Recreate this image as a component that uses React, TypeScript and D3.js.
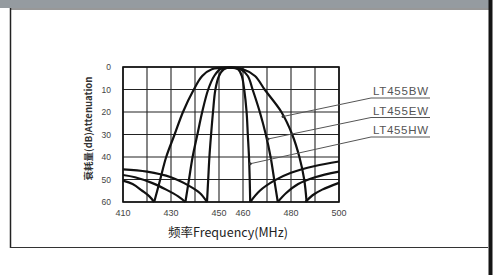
import { useEffect, useRef } from "react";
import * as d3 from "d3";

type Pt = [number, number];

// frequency (MHz) / attenuation (dB)
const freqTicks = [410, 430, 450, 460, 480, 500];
const dbTicks = [0, 10, 20, 30, 40, 50, 60];

const bwMain: Pt[] = [
  [423, 60], [425.5, 50], [428, 40], [431.5, 30], [435, 20], [439.5, 10], [443, 4], [447, 1],
  [454, 0.3], [460, 1], [465, 4], [469, 10], [476, 20], [480.5, 30], [483.5, 40], [485.5, 50], [486.5, 60],
];
const ewMain: Pt[] = [
  [436, 60], [437.5, 50], [439, 40], [441, 30], [443, 20], [445.5, 10], [448, 4], [450.5, 1],
  [455, 0.3], [459, 1], [462, 4], [464, 10], [467, 20], [469.5, 30], [471.5, 40], [473, 50], [474.5, 60],
];
const hwMain: Pt[] = [
  [445, 60], [445.5, 50], [446, 40], [446.7, 30], [447.5, 20], [448.5, 10], [450, 4], [452, 1],
  [455, 0.3], [458, 1], [459.5, 4], [460.5, 10], [461.5, 20], [462, 30], [462.5, 40], [462.8, 50], [463, 60],
];
// stopband arcs either side of the attenuation poles
const hwLeft: Pt[] = [[410, 45.5], [420, 46.5], [430, 49], [437, 52.5], [442, 56], [445, 60]];
const ewLeft: Pt[] = [[410, 48], [415, 49], [422, 51.5], [428, 54.5], [433, 57.5], [436, 60]];
const bwLeft: Pt[] = [[410, 50.5], [414, 52], [418, 55], [421, 57.5], [423, 60]];
const hwRight: Pt[] = [[463, 60], [467, 55], [473, 50.5], [480, 47], [490, 44], [500, 42]];
const ewRight: Pt[] = [[474.5, 60], [478, 56], [483, 52], [490, 49], [500, 46.5]];
const bwRight: Pt[] = [[486, 60], [489, 57], [493, 54.5], [500, 51.5]];

const models = ["LT455BW", "LT455EW", "LT455HW"];
const leaderTargets: Pt[] = [[476.7, 22], [470.4, 32], [463, 43]];

export default function App() {
  const ref = useRef<SVGSVGElement | null>(null);

  useEffect(() => {
    const width = 503;
    const height = 275;
    const svg = d3.select(ref.current);
    svg.selectAll("*").remove();
    svg.attr("width", width).attr("height", height).attr("viewBox", `0 0 ${width} ${height}`);

    // scan frame
    svg.append("rect").attr("width", width).attr("height", height).attr("fill", "#fff");
    svg.append("rect").attr("x", 0).attr("y", 0).attr("width", 490).attr("height", 8).attr("fill", "#959ba0");
    svg.append("line").attr("x1", 10).attr("x2", 490).attr("y1", 9).attr("y2", 9).attr("stroke", "#333").attr("stroke-width", 1.2);
    svg.append("line").attr("x1", 10.5).attr("x2", 10.5).attr("y1", 8).attr("y2", 248).attr("stroke", "#222").attr("stroke-width", 1.5);
    svg.append("line").attr("x1", 490.5).attr("x2", 490.5).attr("y1", 0).attr("y2", 275).attr("stroke", "#151515").attr("stroke-width", 4);
    svg.append("line").attr("x1", 10).attr("x2", 488).attr("y1", 247.5).attr("y2", 247.5).attr("stroke", "#333").attr("stroke-width", 1.2);

    const margin = { top: 67, left: 123 };
    const innerW = 216;
    const innerH = 135;
    const x = d3.scaleLinear().domain([410, 500]).range([0, innerW]);
    const y = d3.scaleLinear().domain([0, 60]).range([0, innerH]);

    const g = svg.append("g").attr("transform", `translate(${margin.left},${margin.top})`);

    // grid
    g.append("g")
      .selectAll("line")
      .data(d3.range(410, 501, 10))
      .enter()
      .append("line")
      .attr("x1", (d) => x(d))
      .attr("x2", (d) => x(d))
      .attr("y1", 0)
      .attr("y2", innerH)
      .attr("stroke", "#222")
      .attr("stroke-width", 1.1);
    g.append("g")
      .selectAll("line")
      .data(dbTicks)
      .enter()
      .append("line")
      .attr("x1", 0)
      .attr("x2", innerW)
      .attr("y1", (d) => y(d))
      .attr("y2", (d) => y(d))
      .attr("stroke", "#222")
      .attr("stroke-width", 1.1);
    g.append("rect")
      .attr("width", innerW)
      .attr("height", innerH)
      .attr("fill", "none")
      .attr("stroke", "#111")
      .attr("stroke-width", 1.6);

    // tick labels
    g.append("g")
      .selectAll("text")
      .data(dbTicks)
      .enter()
      .append("text")
      .attr("x", -12)
      .attr("y", (d) => y(d) + 3)
      .attr("text-anchor", "end")
      .attr("font-family", "Liberation Sans, Arial, sans-serif")
      .attr("font-size", 8.5)
      .attr("fill", "#444")
      .text((d) => d);
    g.append("g")
      .selectAll("text")
      .data(freqTicks)
      .enter()
      .append("text")
      .attr("x", (d) => x(d))
      .attr("y", innerH + 14)
      .attr("text-anchor", "middle")
      .attr("font-family", "Liberation Sans, Arial, sans-serif")
      .attr("font-size", 9)
      .attr("fill", "#444")
      .text((d) => d);

    // axis titles
    g.append("text")
      .attr("transform", `translate(-31,${innerH / 2 - 6}) rotate(-90)`)
      .attr("text-anchor", "middle")
      .attr("font-family", "Noto Sans CJK SC, Liberation Sans, sans-serif")
      .attr("font-size", 9.5)
      .attr("font-weight", 700)
      .attr("fill", "#333")
      .text("衰耗量(dB)Attenuation");
    g.append("text")
      .attr("x", x(455) - 3)
      .attr("y", innerH + 35)
      .attr("text-anchor", "middle")
      .attr("font-family", "Noto Sans CJK SC, Liberation Sans, sans-serif")
      .attr("font-size", 12.5)
      .attr("fill", "#222")
      .text("频率Frequency(MHz)");

    // curves
    const line = d3
      .line<Pt>()
      .x((d) => x(d[0]))
      .y((d) => y(d[1]))
      .curve(d3.curveCatmullRom.alpha(0.5));
    [bwMain, ewMain, hwMain, hwLeft, ewLeft, bwLeft, hwRight, ewRight, bwRight].forEach((s) => {
      g.append("path")
        .datum(s)
        .attr("fill", "none")
        .attr("stroke", "#111")
        .attr("stroke-width", 2.2)
        .attr("stroke-linejoin", "round")
        .attr("d", line);
    });

    // model labels with leaders
    models.forEach((m, i) => {
      const lx = innerW + 34;
      const ly = 28 + i * 19.5;
      const t = leaderTargets[i];
      g.append("line")
        .attr("x1", lx - 2)
        .attr("y1", ly + 3)
        .attr("x2", x(t[0]))
        .attr("y2", y(t[1]))
        .attr("stroke", "#555")
        .attr("stroke-width", 1);
      g.append("circle")
        .attr("cx", x(t[0]))
        .attr("cy", y(t[1]))
        .attr("r", 1.5)
        .attr("fill", "#333");
      g.append("line")
        .attr("x1", lx - 2)
        .attr("x2", lx + 57)
        .attr("y1", ly + 3)
        .attr("y2", ly + 3)
        .attr("stroke", "#555")
        .attr("stroke-width", 1);
      g.append("text")
        .attr("x", lx)
        .attr("y", ly)
        .attr("font-family", "Liberation Sans, Arial, sans-serif")
        .attr("font-size", 11.5)
        .attr("textLength", 55)
        .attr("fill", "#555")
        .text(m);
    });
  }, []);

  return (
    <svg
      ref={ref}
      style={{ position: "absolute", left: 0, top: 0, display: "block" }}
    />
  );
}
